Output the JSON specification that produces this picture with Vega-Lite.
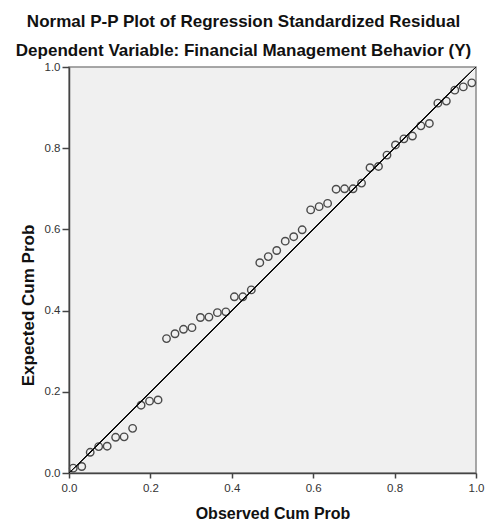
{
  "$schema": "https://vega.github.io/schema/vega-lite/v6.json",
  "autosize": "none",
  "width": 407,
  "height": 406,
  "padding": {"left": 69, "top": 67, "right": 9, "bottom": 52},
  "background": "white",
  "title": {
    "text": ["Normal P-P Plot of Regression Standardized Residual", "Dependent Variable: Financial Management Behavior (Y)"],
    "font": "Liberation Sans",
    "fontSize": 17,
    "fontWeight": "bold",
    "color": "#111111",
    "anchor": "middle",
    "frame": "group",
    "dx": -29,
    "offset": 1,
    "lineHeight": 29
  },
  "config": {
    "view": {"fill": "#F0F0F0", "stroke": "#8a8a8a", "strokeWidth": 1.5}
  },
  "data": {
    "values": [
      {"obs": 0.0104, "exp": 0.012},
      {"obs": 0.0313, "exp": 0.016},
      {"obs": 0.0521, "exp": 0.051},
      {"obs": 0.0729, "exp": 0.065},
      {"obs": 0.0938, "exp": 0.066},
      {"obs": 0.1146, "exp": 0.088},
      {"obs": 0.1354, "exp": 0.089},
      {"obs": 0.1563, "exp": 0.110},
      {"obs": 0.1771, "exp": 0.167},
      {"obs": 0.1979, "exp": 0.177},
      {"obs": 0.2188, "exp": 0.180},
      {"obs": 0.2396, "exp": 0.331},
      {"obs": 0.2604, "exp": 0.343},
      {"obs": 0.2813, "exp": 0.354},
      {"obs": 0.3021, "exp": 0.358},
      {"obs": 0.3229, "exp": 0.383},
      {"obs": 0.3438, "exp": 0.384},
      {"obs": 0.3646, "exp": 0.395},
      {"obs": 0.3854, "exp": 0.397},
      {"obs": 0.4063, "exp": 0.434},
      {"obs": 0.4271, "exp": 0.434},
      {"obs": 0.4479, "exp": 0.451},
      {"obs": 0.4688, "exp": 0.518},
      {"obs": 0.4896, "exp": 0.533},
      {"obs": 0.5104, "exp": 0.548},
      {"obs": 0.5313, "exp": 0.571},
      {"obs": 0.5521, "exp": 0.582},
      {"obs": 0.5729, "exp": 0.599},
      {"obs": 0.5938, "exp": 0.648},
      {"obs": 0.6146, "exp": 0.656},
      {"obs": 0.6354, "exp": 0.664},
      {"obs": 0.6563, "exp": 0.699},
      {"obs": 0.6771, "exp": 0.700},
      {"obs": 0.6979, "exp": 0.700},
      {"obs": 0.7188, "exp": 0.714},
      {"obs": 0.7396, "exp": 0.752},
      {"obs": 0.7604, "exp": 0.755},
      {"obs": 0.7813, "exp": 0.783},
      {"obs": 0.8021, "exp": 0.808},
      {"obs": 0.8229, "exp": 0.823},
      {"obs": 0.8438, "exp": 0.830},
      {"obs": 0.8646, "exp": 0.855},
      {"obs": 0.8854, "exp": 0.861},
      {"obs": 0.9063, "exp": 0.911},
      {"obs": 0.9271, "exp": 0.916},
      {"obs": 0.9479, "exp": 0.943},
      {"obs": 0.9688, "exp": 0.951},
      {"obs": 0.9896, "exp": 0.961}
    ]
  },
  "layer": [
    {
      "mark": {"type": "point", "filled": false, "size": 56, "stroke": "#4a4a4a", "strokeWidth": 1.4, "opacity": 1},
      "encoding": {
        "x": {
          "field": "obs", "type": "quantitative",
          "scale": {"domain": [0, 1], "nice": false, "zero": true},
          "axis": {
            "title": "Observed Cum Prob",
            "values": [0, 0.2, 0.4, 0.6, 0.8, 1.0],
            "format": ".1f",
            "grid": false,
            "domainColor": "#444444",
            "domainWidth": 1.5,
            "tickColor": "#444444",
            "tickWidth": 1.5,
            "tickSize": 5,
            "labelPadding": 4,
            "labelFont": "Liberation Sans",
            "labelFontSize": 11.5,
            "labelColor": "#333333",
            "labelFlush": false,
            "titleFont": "Liberation Sans",
            "titleFontSize": 16,
            "titleFontWeight": "bold",
            "titleColor": "#111111",
            "titlePadding": 12
          }
        },
        "y": {
          "field": "exp", "type": "quantitative",
          "scale": {"domain": [0, 1], "nice": false, "zero": true},
          "axis": {
            "title": "Expected Cum Prob",
            "values": [0, 0.2, 0.4, 0.6, 0.8, 1.0],
            "format": ".1f",
            "grid": false,
            "domainColor": "#444444",
            "domainWidth": 1.5,
            "tickColor": "#444444",
            "tickWidth": 1.5,
            "tickSize": 7,
            "labelPadding": 2,
            "labelFont": "Liberation Sans",
            "labelFontSize": 11.5,
            "labelColor": "#333333",
            "labelFlush": false,
            "titleFont": "Liberation Sans",
            "titleFontSize": 17,
            "titleFontWeight": "bold",
            "titleColor": "#111111",
            "titlePadding": 7,
            "titleY": 238
          }
        }
      }
    },
    {
      "mark": {"type": "rule", "color": "#111111", "strokeWidth": 1},
      "encoding": {
        "x": {"datum": 0, "type": "quantitative"},
        "y": {"datum": 0, "type": "quantitative"},
        "x2": {"datum": 1},
        "y2": {"datum": 1}
      }
    }
  ]
}
